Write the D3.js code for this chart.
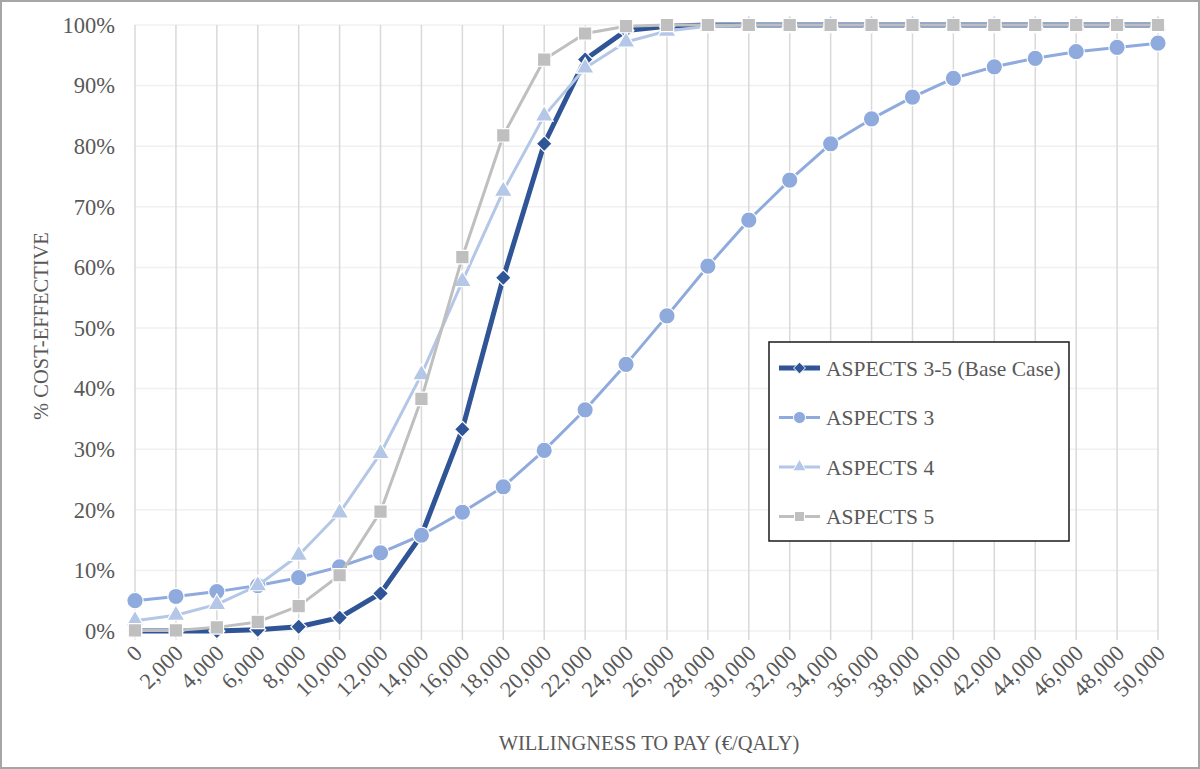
<!DOCTYPE html>
<html><head><meta charset="utf-8">
<script src="https://cdn.jsdelivr.net/npm/d3@7"></script>
<style>body{margin:0;background:#fff}svg{display:block}text{font-family:"Liberation Serif",serif;fill:#595959}</style>
</head><body><svg id="c" width="1200" height="769"></svg>
<script>
const wtp = [0,2000,4000,6000,8000,10000,12000,14000,16000,18000,20000,22000,24000,26000,28000,30000,32000,34000,36000,38000,40000,42000,44000,46000,48000,50000];
const aspects35 = [0,0,0,0.2,0.7,2.2,6.2,15.8,33.3,58.3,80.4,94.3,99.1,99.8,100,100,100,100,100,100,100,100,100,100,100,100];
const aspects3 = [5.0,5.7,6.5,7.5,8.8,10.6,12.9,15.8,19.6,23.8,29.8,36.5,44.0,52.0,60.2,67.8,74.4,80.4,84.5,88.1,91.2,93.1,94.5,95.6,96.3,97.0];
const aspects4 = [1.7,2.6,4.4,7.5,12.5,19.5,29.3,42.3,57.7,72.6,85.0,92.9,97.2,99.0,99.8,100,100,100,100,100,100,100,100,100,100,100];
const aspects5 = [0.1,0.1,0.6,1.5,4.1,9.2,19.7,38.3,61.7,81.8,94.3,98.6,99.8,100,100,100,100,100,100,100,100,100,100,100,100,100];
const yTicks = [0,10,20,30,40,50,60,70,80,90,100];
const seriesNames = ["ASPECTS 3-5 (Base Case)","ASPECTS 3","ASPECTS 4","ASPECTS 5"];

const svg = d3.select("#c");
const x = d3.scaleLinear().domain([0,50000]).range([135,1158]);
const y = d3.scaleLinear().domain([0,100]).range([631,25]);

svg.append("rect").attr("x",1).attr("y",1).attr("width",1198).attr("height",767)
  .attr("fill","#fff").attr("stroke","#a6a6a6").attr("stroke-width",2);

// horizontal gridlines
svg.append("g").selectAll("line").data(yTicks).join("line")
  .attr("x1",x(0)).attr("x2",x(50000)).attr("y1",d=>y(d)).attr("y2",d=>y(d))
  .attr("stroke","#f0f0f0").attr("stroke-width",1.5);
// vertical gridlines
svg.append("g").selectAll("line").data(wtp).join("line")
  .attr("x1",d=>x(d)).attr("x2",d=>x(d)).attr("y1",y(100)).attr("y2",y(0)+9)
  .attr("stroke","#d9d9d9").attr("stroke-width",1.5);

// y tick labels
svg.append("g").selectAll("text").data(yTicks).join("text")
  .attr("x",115).attr("y",d=>y(d)).attr("dy","0.35em").attr("text-anchor","end")
  .attr("font-size",22.5).text(d=>d+"%");
// x tick labels
const fmt = d3.format(",");
svg.append("g").selectAll("text").data(wtp).join("text")
  .attr("transform",d=>`translate(${x(d)+3},${y(0)+18}) rotate(-45)`)
  .attr("text-anchor","end").attr("dy","0.35em").attr("font-size",22.5).text(d=>fmt(d));

// axis titles
svg.append("text").attr("transform","translate(48,326) rotate(-90)").attr("text-anchor","middle")
  .attr("font-size",20.5).text("% COST-EFFECTIVE");
svg.append("text").attr("x",649).attr("y",750).attr("text-anchor","middle")
  .attr("font-size",20.5).text("WILLINGNESS TO PAY (€/QALY)");

const series = [
  {name:seriesNames[0], vals:aspects35, color:"#2F5597", w:5, sym:d3.symbolDiamond2, size:160},
  {name:seriesNames[1], vals:aspects3, color:"#8FAADC", w:3, sym:d3.symbolCircle, size:210},
  {name:seriesNames[2], vals:aspects4, color:"#B4C7E7", w:3, sym:d3.symbolTriangle, size:140},
  {name:seriesNames[3], vals:aspects5, color:"#BFBFBF", w:3, sym:d3.symbolSquare, size:180}
];
const line = d3.line().x((d,i)=>x(wtp[i])).y(d=>y(d));
series.forEach(s=>{
  const g = svg.append("g");
  g.append("path").attr("d",line(s.vals)).attr("fill","none").attr("stroke",s.color)
    .attr("stroke-width",s.w).attr("stroke-linejoin","round");
  g.selectAll("path.m").data(s.vals).join("path").attr("class","m")
    .attr("transform",(d,i)=>`translate(${x(wtp[i])},${y(d)})`)
    .attr("d",d3.symbol().type(s.sym).size(s.size)).attr("fill",s.color)
    .attr("stroke","#fff").attr("stroke-width",1.2);
});

// legend
const lg = svg.append("g");
lg.append("rect").attr("x",769).attr("y",342).attr("width",300).attr("height",199)
  .attr("fill","#fff").attr("stroke","#1a1a1a").attr("stroke-width",1.5);
series.forEach((s,i)=>{
  const yy = 368 + i*49.5;
  lg.append("line").attr("x1",779).attr("x2",820).attr("y1",yy).attr("y2",yy)
    .attr("stroke",s.color).attr("stroke-width",s.w);
  lg.append("path").attr("transform",`translate(799.5,${yy})`)
    .attr("d",d3.symbol().type(s.sym).size(s.size*0.55)).attr("fill",s.color)
    .attr("stroke","#fff").attr("stroke-width",1);
  lg.append("text").attr("x",826).attr("y",yy).attr("dy","0.35em").attr("font-size",21.5).text(s.name);
});
</script></body></html>
